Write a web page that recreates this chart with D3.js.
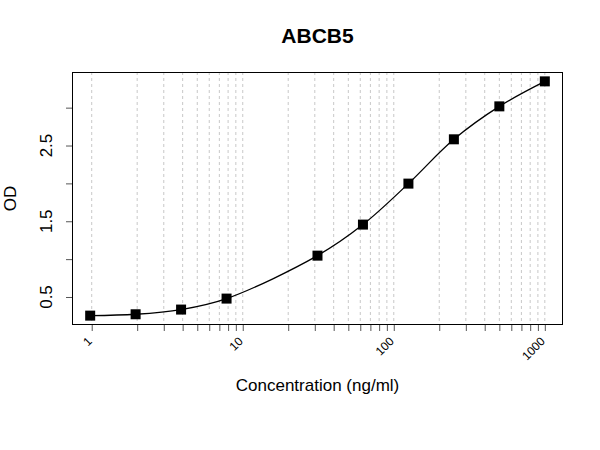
<!DOCTYPE html>
<html>
<head>
<meta charset="utf-8">
<script src="https://cdn.jsdelivr.net/npm/d3@7"></script>
<style>
	body { margin: 0; background: #fff; }
	text { font-family: "Liberation Sans", Arial, sans-serif; fill: #000; }
</style>
</head>
<body>
<div id="chart"></div>
<script>
// standard curve values
var concentration = [0.977, 1.953, 3.906, 7.813, 31.25, 62.5, 125, 250, 500, 1000];
var od = [0.254, 0.272, 0.334, 0.479, 1.046, 1.456, 1.997, 2.582, 3.017, 3.347];

var xMajorTicks = [1, 10, 100, 1000];
var xMajorLabels = ["1", "10", "100", "1000"];
var xMinorSteps = [2, 3, 4, 5, 6, 7, 8, 9];
var yTicks = [0.5, 1, 1.5, 2, 2.5, 3];
var yLabels = ["0.5", "", "1.5", "", "2.5", ""];

var width = 600,
	height = 450,
	margin = {top: 72, right: 37, bottom: 125, left: 72};

var svg = d3.select("#chart")
	.append("svg")
	.attr("width", width)
	.attr("height", height);

// R style 4% padding on both axes
var lx = d3.extent(concentration, function(d) { return Math.log10(d); });
var px = (lx[1] - lx[0]) * 0.04;
var x = d3.scaleLog()
	.domain([Math.pow(10, lx[0] - px), Math.pow(10, lx[1] + px)])
	.range([margin.left, width - margin.right]);

var ly = d3.extent(od);
var py = (ly[1] - ly[0]) * 0.04;
var y = d3.scaleLinear()
	.domain([ly[0] - py, ly[1] + py])
	.range([height - margin.bottom, margin.top]);

// all log ticks: 1..9, 10..90, 100..900, 1000
var allTicks = [];
xMajorTicks.forEach(function(t, i) {
	allTicks.push(t);
	if (i < xMajorTicks.length - 1) {
		xMinorSteps.forEach(function(m) { allTicks.push(t * m); });
	}
});

// vertical dashed grid
svg.append("g")
	.selectAll("line")
	.data(allTicks)
	.enter().append("line")
	.attr("x1", function(d) { return x(d); })
	.attr("x2", function(d) { return x(d); })
	.attr("y1", margin.top)
	.attr("y2", height - margin.bottom)
	.attr("stroke", "#c8c8c8")
	.attr("stroke-dasharray", "3,3")
	.attr("stroke-width", 1);

// x axis
var xAxis = svg.append("g")
	.attr("transform", "translate(0," + (height - margin.bottom) + ")")
	.call(d3.axisBottom(x).tickValues(allTicks).tickSize(6).tickFormat(""));
xAxis.select(".domain").remove();
xAxis.selectAll(".tick line").attr("stroke", "#555");

svg.append("g")
	.selectAll("text")
	.data(xMajorTicks)
	.enter().append("text")
	.attr("transform", function(d) { return "translate(" + (x(d) + 1) + "," + (height - margin.bottom + 17) + ") rotate(-45)"; })
	.attr("text-anchor", "end")
	.style("font-size", "12px")
	.text(function(d, i) { return xMajorLabels[i]; });

// y axis
var yAxis = svg.append("g")
	.attr("transform", "translate(" + margin.left + ",0)")
	.call(d3.axisLeft(y).tickValues(yTicks).tickSize(6).tickFormat(""));
yAxis.select(".domain").remove();
yAxis.selectAll(".tick line").attr("stroke", "#555");

svg.append("g")
	.selectAll("text")
	.data(yTicks)
	.enter().append("text")
	.attr("transform", function(d) { return "translate(52," + y(d) + ") rotate(-90)"; })
	.attr("text-anchor", "middle")
	.style("font-size", "17px")
	.text(function(d, i) { return yLabels[i]; });

// plot box
svg.append("rect")
	.attr("x", margin.left + 0.5)
	.attr("y", margin.top + 0.5)
	.attr("width", width - margin.left - margin.right - 1)
	.attr("height", height - margin.top - margin.bottom - 1)
	.attr("fill", "none")
	.attr("stroke", "#000")
	.attr("stroke-width", 1);

// curve through the points
var points = concentration.map(function(c, i) { return [c, od[i]]; });
svg.append("path")
	.datum(points)
	.attr("fill", "none")
	.attr("stroke", "#000")
	.attr("stroke-width", 1.3)
	.attr("d", d3.line()
		.curve(d3.curveCatmullRom.alpha(0.5))
		.x(function(d) { return x(d[0]); })
		.y(function(d) { return y(d[1]); }));

svg.append("g")
	.selectAll("rect")
	.data(points)
	.enter().append("rect")
	.attr("x", function(d) { return x(d[0]) - 5; })
	.attr("y", function(d) { return y(d[1]) - 5; })
	.attr("width", 10)
	.attr("height", 10)
	.attr("fill", "#000");

// titles
svg.append("text")
	.attr("x", (margin.left + width - margin.right) / 2)
	.attr("y", 43)
	.attr("text-anchor", "middle")
	.style("font-size", "21px")
	.style("font-weight", "bold")
	.text("ABCB5");

svg.append("text")
	.attr("x", (margin.left + width - margin.right) / 2)
	.attr("y", 391)
	.attr("text-anchor", "middle")
	.style("font-size", "17px")
	.text("Concentration (ng/ml)");

svg.append("text")
	.attr("transform", "translate(16," + ((margin.top + height - margin.bottom) / 2) + ") rotate(-90)")
	.attr("text-anchor", "middle")
	.style("font-size", "17px")
	.text("OD");
</script>
</body>
</html>
